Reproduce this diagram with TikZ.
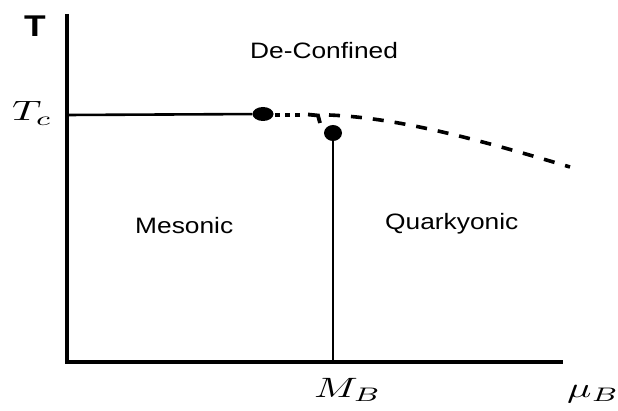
\documentclass[tikz,border=0pt]{standalone}
\usepackage{fontspec}
\setsansfont{Liberation Sans}
\usetikzlibrary{shapes.geometric}
\begin{document}
\begin{tikzpicture}[x=1pt,y=-1pt,
  axisline/.style={line width=3.2pt},
  phaseline/.style={line width=2.6pt},
  critdot/.style={ellipse,fill=black,draw=none,inner sep=0pt},
  sanslabel/.style={anchor=base west,inner sep=0pt,font=\sffamily\fontsize{22.3}{26}\selectfont},
  mathlabel/.style={anchor=base west,inner sep=0pt}]
\useasboundingbox (0,0) rectangle (618,411);
% axes
\coordinate (ytop) at (67,14);
\coordinate (origin) at (67,362);
\coordinate (xend) at (563,362);
\coordinate (tcstart) at (67,115);
\coordinate (mbfoot) at (333,362);
\draw[axisline] (ytop) -- (origin) -- (xend);
% critical points
\node[critdot,minimum width=21pt,minimum height=14pt] (cp1) at (263,114) {};
\node[critdot,minimum width=18pt,minimum height=16pt] (cp2) at (333,133) {};
% lines
\draw[phaseline] (tcstart) -- (cp1);
\draw[line width=2pt] (cp2) -- (mbfoot);
% dotted part
\coordinate (d1) at (275,115);
\coordinate (d2) at (302,115);
\coordinate (h1) at (308,114.5);
\coordinate (h2) at (318,115.5);
\coordinate (h3) at (320,123);
\draw[line width=4.5pt,dash pattern=on 5pt off 5pt] (d1) -- (d2);
\draw[line width=3.8pt] (h1) -- (h2) -- (h3);
% dashed crossover
\coordinate (c1) at (329,115);
\coordinate (c2) at (570,167);
\draw[line width=3.6pt,dash pattern=on 11pt off 11pt] (c1) .. controls (400,118) and (480,140) .. (c2);
% labels
\node[anchor=base west,inner sep=0pt,font=\sffamily\bfseries\fontsize{30}{34}\selectfont] (tlab) at (24,37) {\scalebox{1.18}[1]{T}};
\node[mathlabel] (tclab) at (12,121) {\scalebox{4.06}[2.8]{$T_c$}};
\node[mathlabel] (mblab) at (314,397) {\scalebox{4.06}[2.8]{$M_B$}};
\node[mathlabel] (mulab) at (567,397) {\scalebox{4.06}[2.8]{$\mu_B$}};
\node[sanslabel] (dec) at (250,59) {\scalebox{1.18}[1]{De-Confined}};
\node[sanslabel] (mes) at (135,234) {\scalebox{1.18}[1]{Mesonic}};
\node[sanslabel] (qua) at (385,230) {\scalebox{1.18}[1]{Quarkyonic}};
\end{tikzpicture}
\end{document}
